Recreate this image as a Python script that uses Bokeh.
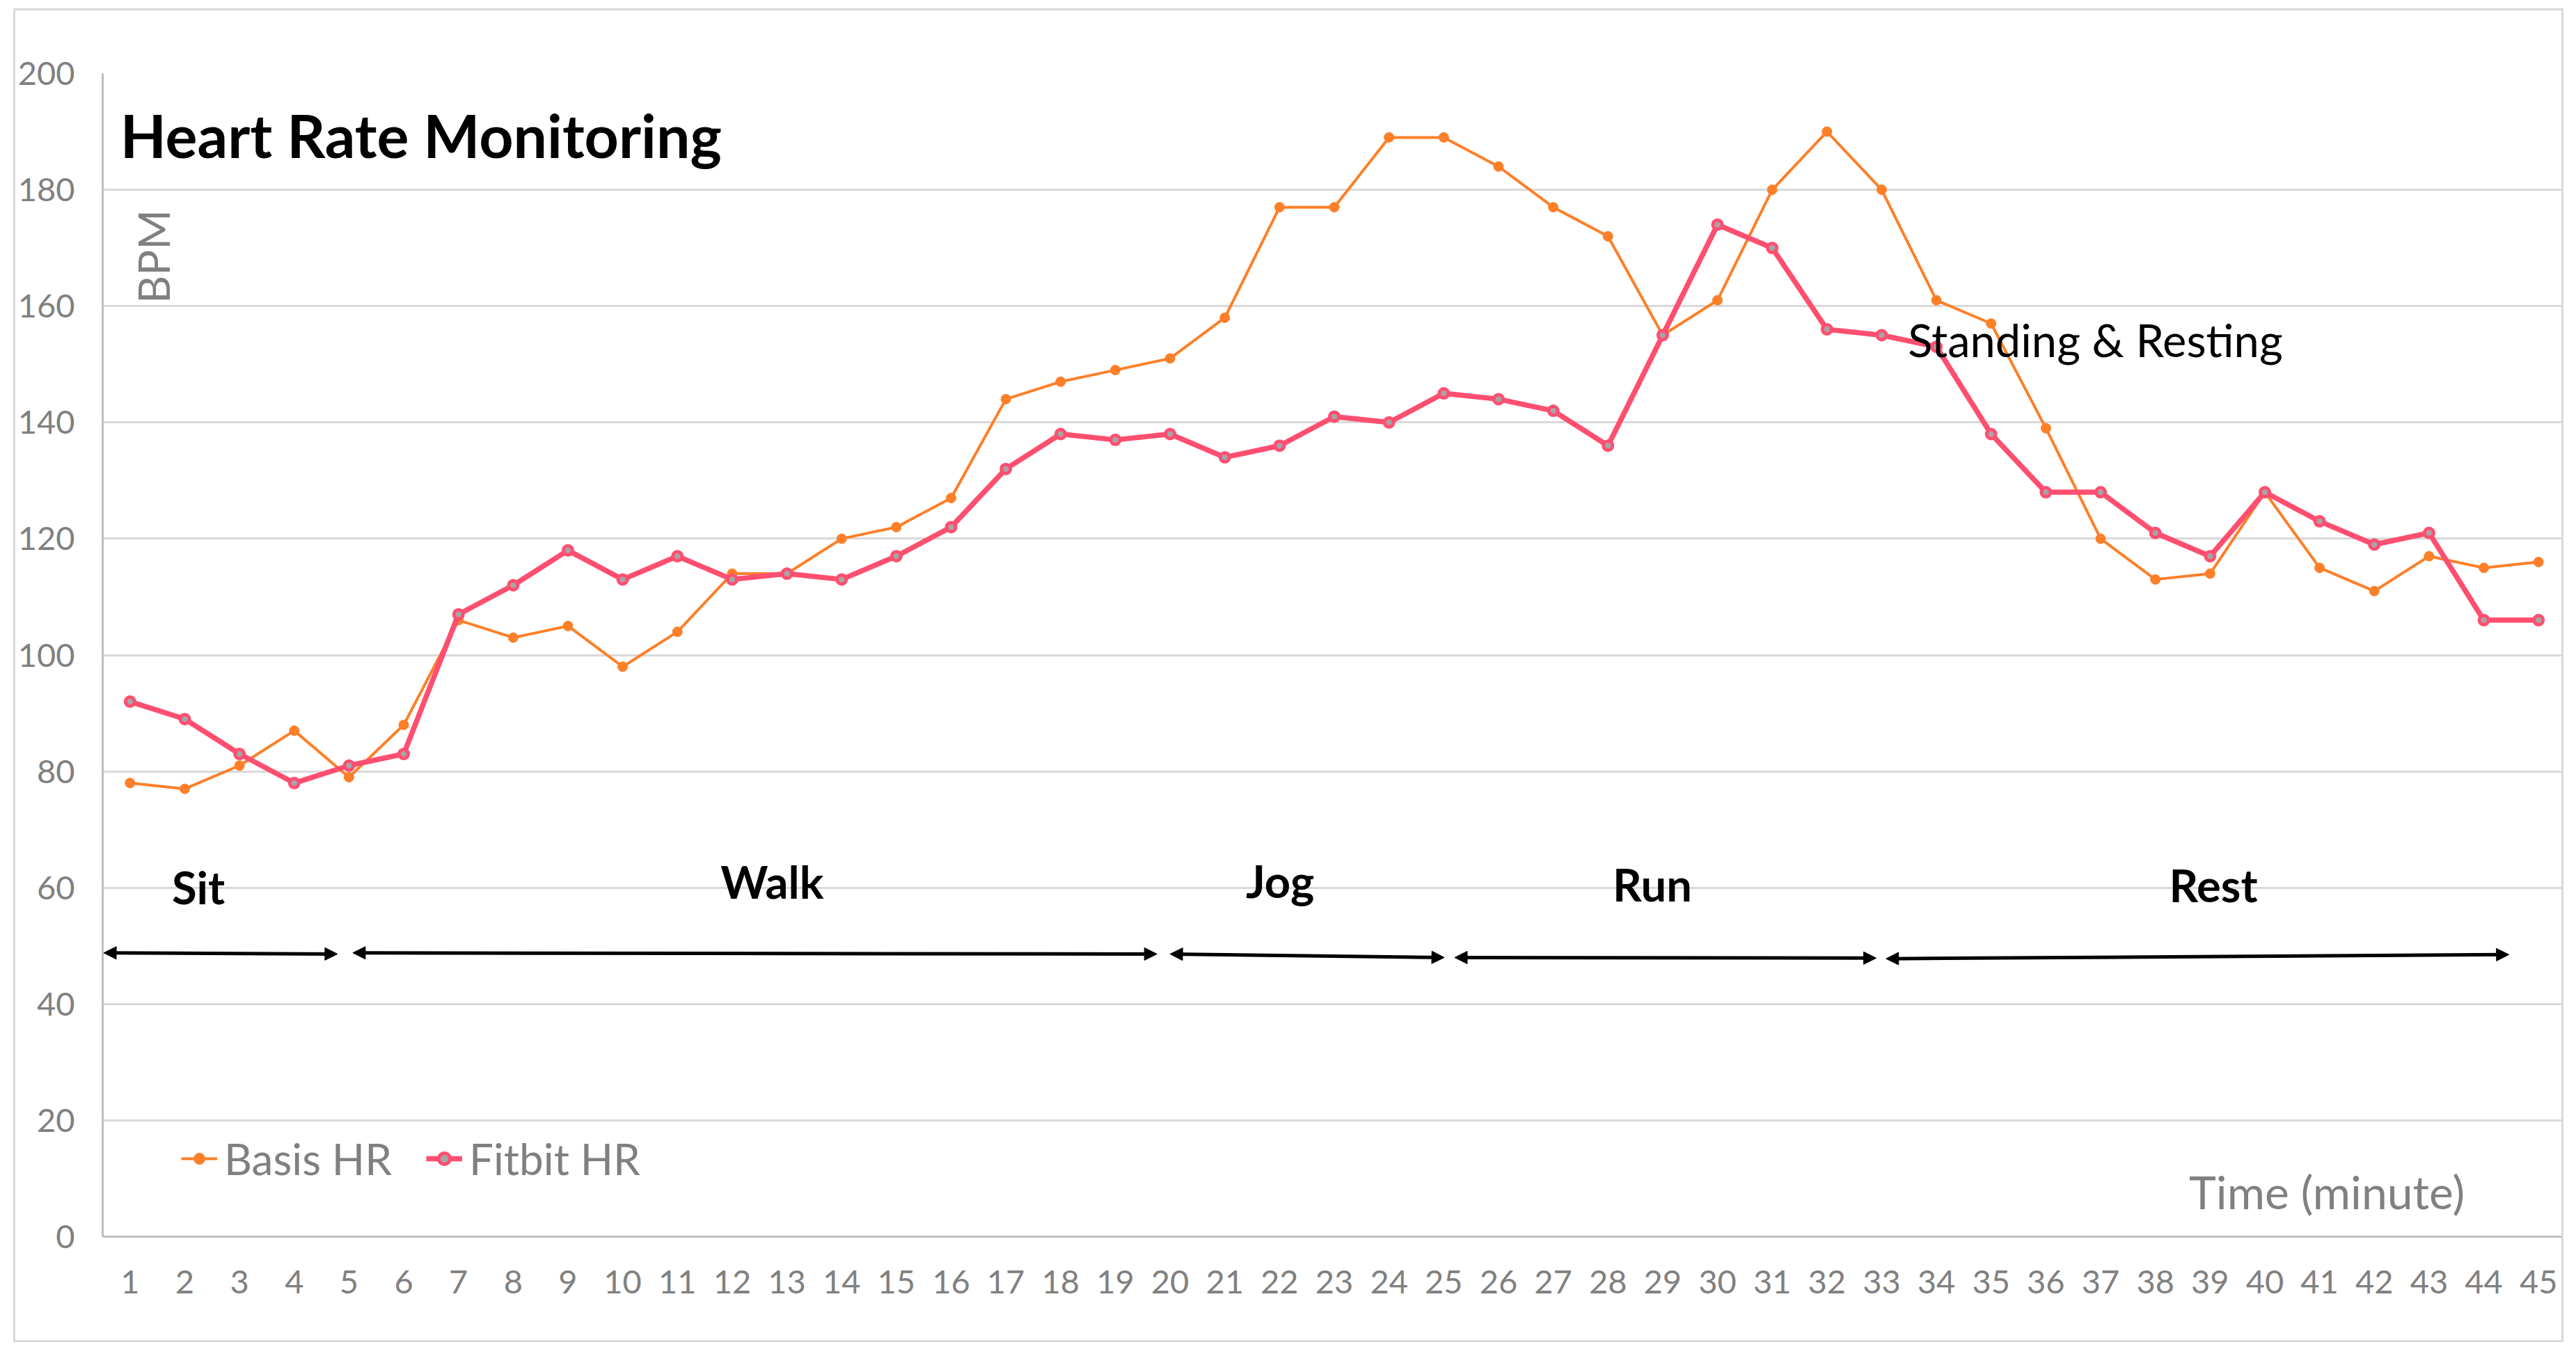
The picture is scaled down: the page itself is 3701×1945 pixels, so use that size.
import math
from bokeh.plotting import figure
from bokeh.models import (ColumnDataSource, Range1d, FixedTicker, Legend, LegendItem,
                          Arrow, NormalHead)
from bokeh.core.properties import value
from bokeh.embed import file_html
from bokeh.resources import INLINE

# ---------------- data ----------------
minutes = list(range(1, 46))
minute_labels = [str(m) for m in minutes]
basis_hr = [78, 77, 81, 87, 79, 88, 106, 103, 105, 98, 104, 114, 114, 120, 122, 127, 144, 147, 149, 151,
            158, 177, 177, 189, 189, 184, 177, 172, 155, 161, 180, 190, 180, 161, 157, 139, 120, 113, 114,
            128, 115, 111, 117, 115, 116]
fitbit_hr = [92, 89, 83, 78, 81, 83, 107, 112, 118, 113, 117, 113, 114, 113, 117, 122, 132, 138, 137, 138,
             134, 136, 141, 140, 145, 144, 142, 136, 155, 174, 170, 156, 155, 153, 138, 128, 128, 121, 117,
             128, 123, 119, 121, 106, 106]
y_ticks = [0, 20, 40, 60, 80, 100, 120, 140, 160, 180, 200]

# activity phases
phase_names = ["Sit", "Walk", "Jog", "Run", "Rest"]
phase_label_x = [2.25, 12.73, 22.01, 28.81, 39.06]
phase_label_y = [60.1, 61.1, 61.2, 60.6, 60.5]
arrow_x0 = [0.52, 5.07, 20.0, 25.2, 33.08]
arrow_x1 = [4.79, 19.76, 25.01, 32.9, 44.46]
arrow_y0 = [48.8, 48.8, 48.6, 48.0, 47.8]
arrow_y1 = [48.6, 48.6, 48.0, 47.9, 48.5]

ORANGE = "#fd7f28"
PINK = "#fe4f70"
GRAY_TXT = "#808080"
FONT = "Lato"

W, H = 3664, 1916
p = figure(width=W, height=H, output_backend="svg", toolbar_location=None,
           x_range=Range1d(0.5, 45.5), y_range=Range1d(0, 200),
           min_border_left=124, min_border_right=0, min_border_top=90, min_border_bottom=155,
           margin=(12, 0, 0, 19),
           styles={"border": "3px solid #d9d9d9"})
p.outline_line_color = None
p.background_fill_color = "white"
p.border_fill_color = "white"

# axes
p.xaxis.ticker = FixedTicker(ticks=minutes)
p.xaxis.major_label_overrides = {m: lbl for m, lbl in zip(minutes, minute_labels)}
p.yaxis.ticker = FixedTicker(ticks=y_ticks)
for ax in (p.xaxis, p.yaxis):
    ax.major_tick_line_color = None
    ax.minor_tick_line_color = None
    ax.axis_line_color = "#bfbfbf"
    ax.axis_line_width = 3
    ax.major_label_text_font = FONT
    ax.major_label_text_font_size = "47px"
    ax.major_label_text_color = GRAY_TXT
p.xaxis.major_label_standoff = 42
p.yaxis.major_label_standoff = 34
p.xgrid.grid_line_color = None
p.ygrid.grid_line_color = "#d9d9d9"
p.ygrid.grid_line_width = 3

src = ColumnDataSource(dict(x=minutes, basis=basis_hr, fitbit=fitbit_hr))

b_line = p.line("x", "basis", source=src, line_color=ORANGE, line_width=4)
b_pts = p.scatter("x", "basis", source=src, size=14, fill_color=ORANGE, line_color=ORANGE)
f_line = p.line("x", "fitbit", source=src, line_color=PINK, line_width=7.5)
f_pts = p.scatter("x", "fitbit", source=src, size=13, fill_color="#a6a6a6", line_color=PINK, line_width=5)

legend = Legend(items=[LegendItem(label="Basis HR", renderers=[b_line, b_pts]),
                       LegendItem(label="Fitbit HR", renderers=[f_line, f_pts])],
                orientation="horizontal", location=(113, 75), padding=0, margin=0,
                spacing=49, glyph_width=52, glyph_height=40, label_standoff=10,
                label_text_font=FONT, label_text_font_size="62px", label_text_color=GRAY_TXT,
                border_line_color=None, background_fill_alpha=0)
p.add_layout(legend, "center")

# phase labels and arrows
p.text(x=phase_label_x, y=phase_label_y, text=phase_names, text_font=value(FONT),
       text_font_style="bold", text_font_size="65px", text_color="black",
       text_align="center", text_baseline="alphabetic")
arr_src = ColumnDataSource(dict(x0=arrow_x0, x1=arrow_x1, y0=arrow_y0, y1=arrow_y1))
p.add_layout(Arrow(source=arr_src, x_start="x0", x_end="x1", y_start="y0", y_end="y1",
                   line_color="black", line_width=5,
                   start=NormalHead(size=18, fill_color="black", line_color="black", line_width=1),
                   end=NormalHead(size=18, fill_color="black", line_color="black", line_width=1)))

# texts
p.text(x=[0.82], y=[189.5], text=["Heart Rate Monitoring"], text_font=value(FONT),
       text_font_style="bold", text_font_size="86px", text_color="black",
       text_align="left", text_baseline="alphabetic")
p.text(x=[1.42], y=[168.5], text=["BPM"], angle=math.pi / 2, text_font=value(FONT),
       text_font_size="62px", text_color=GRAY_TXT, text_align="center", text_baseline="middle")
p.text(x=[33.48], y=[154.2], text=["Standing & Resting"], text_font=value(FONT),
       text_font_size="65px", text_color="black", text_align="left", text_baseline="alphabetic")
p.text(x=[43.65], y=[7.8], text=["Time (minute)"], text_font=value(FONT),
       text_font_size="66px", text_color=GRAY_TXT, text_align="right", text_baseline="alphabetic")

open("out.html", "w").write(file_html(p, INLINE))
